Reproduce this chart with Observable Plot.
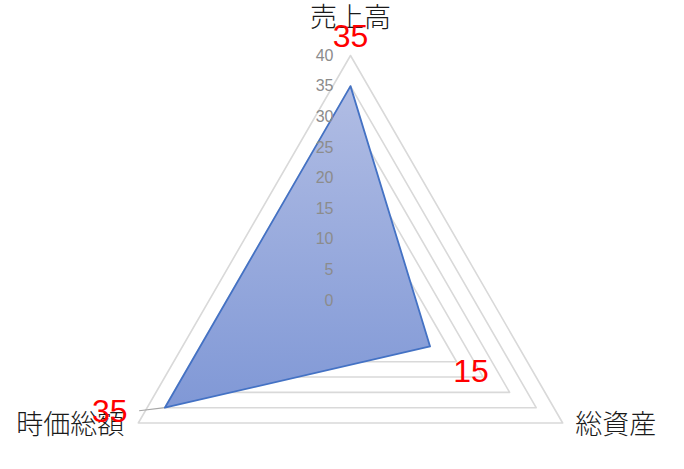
<!DOCTYPE html>
<html>
<head>
<meta charset="utf-8">
<script src="https://cdn.jsdelivr.net/npm/d3@7"></script>
<script src="https://cdn.jsdelivr.net/npm/@observablehq/plot@0.6"></script>
<style>
  html, body { margin: 0; padding: 0; background: #fff; }
  #chart svg { display: block; }
</style>
</head>
<body>
<div id="chart"></div>
<script>
const categories = ["売上高", "総資産", "時価総額"];
const values = [35, 15, 35];
const gridLevels = [5, 10, 15, 20, 25, 30, 35, 40];
const tickLabels = [0, 5, 10, 15, 20, 25, 30, 35, 40];

const W = 684, H = 469;
const cx = 350, cy = 300, pxPerUnit = 245 / 40;

const angle = i => Math.PI / 2 - i * 2 * Math.PI / 3;
const px = (r, i) => r * Math.cos(angle(i));
const py = (r, i) => r * Math.sin(angle(i));

const grid = gridLevels.flatMap(l => categories.map((c, i) => ({level: l, x: px(l, i), y: py(l, i)})));
const series = categories.map((c, i) => ({cat: c, v: values[i], x: px(values[i], i), y: py(values[i], i)}));
const ticks = tickLabels.map(t => ({t, x: 0, y: t}));
const catLabels = categories.map((c, i) => ({cat: c, x: px(40, i), y: py(40, i)}));

const catOffsets = {"売上高": [0, -37], "総資産": [53, 2], "時価総額": [-68, 2]};
const valOffsets = [[0, -49], [41, 25], [-55, 4]];

const gradientDefs = () => {
  const ns = "http://www.w3.org/2000/svg";
  const defs = document.createElementNS(ns, "defs");
  const g = document.createElementNS(ns, "linearGradient");
  g.setAttribute("id", "areaGrad");
  g.setAttribute("x1", "0"); g.setAttribute("y1", "0");
  g.setAttribute("x2", "0"); g.setAttribute("y2", "1");
  [["0%", "#b1bde4"], ["100%", "#8098d6"]].forEach(([o, c]) => {
    const s = document.createElementNS(ns, "stop");
    s.setAttribute("offset", o); s.setAttribute("stop-color", c);
    g.appendChild(s);
  });
  defs.appendChild(g);
  return defs;
};

const chart = Plot.plot({
  width: W,
  height: H,
  margin: 0,
  x: {domain: [-cx / pxPerUnit, (W - cx) / pxPerUnit], range: [0, W], axis: null},
  y: {domain: [-(H - cy) / pxPerUnit, cy / pxPerUnit], range: [H, 0], axis: null},
  style: {background: "#fff"},
  marks: [
    gradientDefs,
    Plot.line(grid, {x: "x", y: "y", z: "level", curve: "linear-closed", stroke: "#d9d9d9", strokeWidth: 1.6}),
    Plot.link([series[2]], {x1: "x", y1: "y", x2: d => d.x - 4.2, y2: d => d.y - 0.5, stroke: "#a6a6a6", strokeWidth: 1.2}),
    Plot.line(series, {x: "x", y: "y", curve: "linear-closed", fill: "url(#areaGrad)", stroke: "#4472c4", strokeWidth: 1.8}),
    Plot.text(ticks, {x: "x", y: "y", text: d => String(d.t), dx: -17, textAnchor: "end",
      fill: "#8c8c8c", fontSize: 16, fontFamily: "Liberation Sans, Arial, sans-serif"}),
    ...catLabels.map(d => Plot.text([d], {x: "x", y: "y", text: "cat", textAnchor: "middle",
      dx: catOffsets[d.cat][0], dy: catOffsets[d.cat][1],
      fill: "#1a1a1a", fontSize: 27, fontWeight: 300, fontFamily: "Noto Sans CJK JP, sans-serif"})),
    ...series.map((d, i) => Plot.text([d], {x: "x", y: "y", text: d => String(d.v), textAnchor: "middle",
      dx: valOffsets[i][0], dy: valOffsets[i][1],
      fill: "#ff0000", fontSize: 32, fontFamily: "Liberation Sans, Arial, sans-serif"}))
  ]
});
document.getElementById("chart").appendChild(chart);
</script>
</body>
</html>
